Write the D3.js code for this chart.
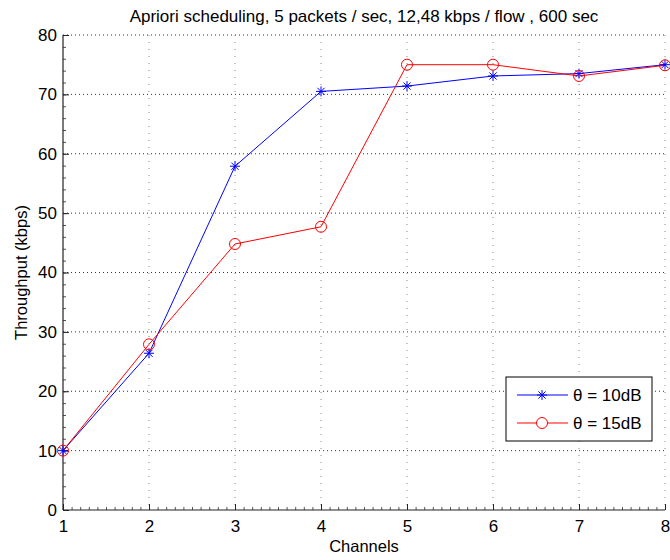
<!DOCTYPE html>
<html><head><meta charset="utf-8">
<script src="https://cdn.jsdelivr.net/npm/d3@7"></script>
<style>body{margin:0;background:#fff;} svg{display:block;font-family:"Liberation Sans",Arial,sans-serif;}</style>
</head><body>
<svg id="chart" width="670" height="560"></svg>
<script>
const channels = [1, 2, 3, 4, 5, 6, 7, 8];
const theta10 = [10, 26.4, 57.9, 70.5, 71.4, 73.1, 73.5, 75];
const theta15 = [10, 27.9, 44.8, 47.7, 75, 75, 73.1, 74.9];
const seriesNames = ["\u03b8 = 10dB", "\u03b8 = 15dB"];
const xTicks = [1, 2, 3, 4, 5, 6, 7, 8];
const yTicks = [0, 10, 20, 30, 40, 50, 60, 70, 80];
const titleText = "Apriori scheduling, 5 packets / sec, 12,48 kbps / flow , 600 sec";

const svg = d3.select("#chart");
const L = 63, R = 665, T = 35, B = 510;
const x = d3.scaleLinear().domain([1, 8]).range([L, R]);
const y = d3.scaleLinear().domain([0, 80]).range([B, T]);

// grid
const grid = svg.append("g");
grid.selectAll(".hg").data(yTicks.slice(1)).enter().append("line")
  .attr("x1", L).attr("x2", R).attr("y1", d => y(d)).attr("y2", d => y(d))
  .attr("stroke", "#333").attr("stroke-width", 1).attr("stroke-dasharray", "1,3");
grid.selectAll(".vg").data(xTicks.slice(1)).enter().append("line")
  .attr("y1", T).attr("y2", B).attr("x1", d => x(d)).attr("x2", d => x(d))
  .attr("stroke", "#888").attr("stroke-width", 1).attr("stroke-dasharray", "1,6");

// axes
const xAxis = d3.axisBottom(x).tickValues(xTicks).tickSize(-6).tickPadding(10).tickFormat(d3.format("d"));
const yAxis = d3.axisLeft(y).tickValues(yTicks).tickSize(-6).tickPadding(6).tickFormat(d3.format("d"));
const xMinor = d3.axisBottom(x).tickValues(d3.range(1, 8.001, 0.1)).tickSize(-3).tickFormat("");
const yMinor = d3.axisLeft(y).tickValues(d3.range(0, 80.001, 2)).tickSize(-3).tickFormat("");

function styleAxis(g) {
  g.select(".domain").attr("stroke", "#222").attr("stroke-width", 1.2);
  g.selectAll(".tick line").attr("stroke", "#222");
  g.selectAll(".tick text").attr("fill", "#000").style("font-size", "17px")
   .style("font-family", "'Liberation Sans', Arial, sans-serif");
}
svg.append("g").attr("transform", `translate(0,${B})`).call(xMinor).call(g => { g.select(".domain").remove(); g.selectAll("line").attr("stroke", "#555"); });
svg.append("g").attr("transform", `translate(${L},0)`).call(yMinor).call(g => { g.select(".domain").remove(); g.selectAll("line").attr("stroke", "#555"); });
svg.append("g").attr("transform", `translate(0,${B})`).call(xAxis).call(styleAxis).call(g => g.select(".domain").attr("d", `M${L},0H${R}`));
svg.append("g").attr("transform", `translate(${L},0)`).call(yAxis).call(styleAxis).call(g => g.select(".domain").attr("d", `M0,${B}V${T}`));

// lines
const line = d3.line().x((d, i) => x(channels[i])).y(d => y(d));
svg.append("path").datum(theta10).attr("d", line).attr("fill", "none").attr("stroke", "#0000ff").attr("stroke-width", 1);
svg.append("path").datum(theta15).attr("d", line).attr("fill", "none").attr("stroke", "#ff0000").attr("stroke-width", 1);

function star(g, cx, cy, r, color) {
  const p = `M${cx - r},${cy}H${cx + r}M${cx},${cy - r}V${cy + r}` +
    `M${cx - r * 0.72},${cy - r * 0.72}L${cx + r * 0.72},${cy + r * 0.72}` +
    `M${cx - r * 0.72},${cy + r * 0.72}L${cx + r * 0.72},${cy - r * 0.72}`;
  g.append("path").attr("d", p).attr("stroke", color).attr("stroke-width", 1).attr("fill", "none");
}
const mk = svg.append("g");
theta10.forEach((v, i) => star(mk, x(channels[i]), y(v), 5, "#0000ff"));
mk.selectAll(".c").data(theta15).enter().append("circle")
  .attr("cx", (d, i) => x(channels[i])).attr("cy", d => y(d)).attr("r", 5.5)
  .attr("fill", "none").attr("stroke", "#ff0000").attr("stroke-width", 1);

// title and labels
svg.append("text").attr("x", (L + R) / 2).attr("y", 22).attr("text-anchor", "middle")
  .style("font-size", "17px").text(titleText);
svg.append("text").attr("x", (L + R) / 2).attr("y", 552).attr("text-anchor", "middle")
  .style("font-size", "16.5px").text("Channels");
svg.append("text").attr("transform", `translate(27,${(T + B) / 2}) rotate(-90)`).attr("text-anchor", "middle")
  .style("font-size", "16.5px").text("Throughput (kbps)");

// legend
const lg = svg.append("g");
lg.append("rect").attr("x", 506).attr("y", 377).attr("width", 146).attr("height", 64)
  .attr("fill", "#fff").attr("stroke", "#000").attr("stroke-width", 1);
const rows = [{ c: "#0000ff", t: seriesNames[0], yy: 395, m: "star" }, { c: "#ff0000", t: seriesNames[1], yy: 423, m: "circle" }];
rows.forEach(r => {
  lg.append("line").attr("x1", 517).attr("x2", 568).attr("y1", r.yy).attr("y2", r.yy).attr("stroke", r.c).attr("stroke-width", 1);
  if (r.m === "star") star(lg, 542, r.yy, 5, r.c);
  else lg.append("circle").attr("cx", 542).attr("cy", r.yy).attr("r", 5.5).attr("fill", "#fff").attr("stroke", r.c);
  lg.append("text").attr("x", 573).attr("y", r.yy + 6).style("font-size", "17px").text(r.t);
});
</script>
</body></html>
